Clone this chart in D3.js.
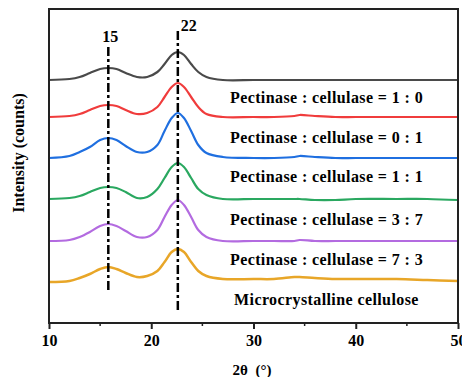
<!DOCTYPE html>
<html>
<head>
<meta charset="utf-8">
<script src="https://cdn.jsdelivr.net/npm/d3@7"></script>
<style>
  body { margin: 0; background: #fff; }
  text { font-family: "Liberation Serif", "Times New Roman", serif; font-weight: bold; }
</style>
</head>
<body>
<svg id="chart"></svg>
<script>
// 2theta sample positions shared by all curves
const twoTheta = [10, 12, 13, 14, 15, 15.8, 16.6, 17.5, 18.6, 19.6, 20.6, 21.3, 22, 22.6, 23.2, 23.9, 24.6, 25.4, 27, 30, 32, 34, 34.5, 36, 38, 40, 44, 47, 50];

// intensity (arbitrary counts, offset stacked)
const gray   = [243, 244, 246, 250, 254, 255, 254, 250, 246, 246, 251, 259, 268, 271, 268, 259, 251, 246, 243, 243, 243, 243, 243, 243, 243, 243, 243, 243, 243];
const red    = [206, 207, 209, 213, 217, 218, 217, 213, 209, 210, 216, 226, 236, 240, 236, 226, 216, 209, 206, 206, 206, 207, 208, 207, 206, 206, 206, 206, 206];
const blue   = [165, 167, 171, 176, 183, 185, 183, 177, 171, 171, 178, 192, 205, 210, 205, 192, 178, 170, 166, 165, 165, 166, 167, 166, 165, 165, 165, 165, 165];
const green  = [124, 125, 127, 131, 135, 136, 135, 131, 125, 126, 134, 145, 156, 160, 156, 145, 134, 128, 124, 124, 124, 124, 124, 123, 123, 124, 124, 124, 123];
const purple = [82, 83, 86, 91, 97, 99, 97, 92, 86, 86, 93, 106, 118, 123, 118, 106, 93, 86, 82, 82, 82, 82, 83, 82, 82, 82, 82, 82, 82];
const orange = [41, 42, 45, 49, 54, 56, 54, 50, 46, 47, 52, 61, 71, 74, 71, 61, 52, 47, 44, 44, 44, 46, 46, 45, 44, 44, 44, 43, 42];

const seriesColors = ["#4a4a4a", "#f03c3c", "#1f6fe0", "#2aa860", "#b36be0", "#e8a628"];
const seriesValues = [gray, red, blue, green, purple, orange];

const labels = ["Pectinase : cellulase = 1 : 0", "Pectinase : cellulase = 0 : 1", "Pectinase : cellulase = 1 : 1",
                "Pectinase : cellulase = 3 : 7", "Pectinase : cellulase = 7 : 3", "Microcrystalline cellulose"];
const labelX = [27.7, 27.7, 27.7, 27.7, 27.7, 28.1];
const labelY = [226, 186, 147, 104, 64, 24];

// reference peaks (dash-dot markers)
const peakPos = [15.8, 22.6];
const peakText = ["15", "22"];
const peakSpan = [[33, 278], [13, 294]];

const xTicks = [10, 20, 30, 40, 50];
const xMinor = [15, 25, 35, 45];

const svgWidth = 462, svgHeight = 377;
const margin = { top: 9, right: 4, bottom: 54, left: 49 };
const width = svgWidth - margin.left - margin.right;
const height = svgHeight - margin.top - margin.bottom;

const svg = d3.select("#chart").attr("width", svgWidth).attr("height", svgHeight);
const chart = svg.append("g").attr("transform", `translate(${margin.left},${margin.top})`);

const x = d3.scaleLinear().domain([10, 50]).range([0, width]);
const y = d3.scaleLinear().domain([0, 314]).range([height, 0]);

const line = d3.line()
    .x(d => x(d[0]))
    .y(d => y(d[1]))
    .curve(d3.curveCatmullRom.alpha(0.5));

// curves
seriesValues.forEach((vals, i) => {
    chart.append("path")
        .datum(twoTheta.map((t, j) => [t, vals[j]]))
        .attr("fill", "none")
        .attr("stroke", seriesColors[i])
        .attr("stroke-width", i === 5 ? 2.5 : 2.2)
        .attr("stroke-linejoin", "round")
        .attr("d", line);
});

// dash-dot peak markers
peakPos.forEach((p, i) => {
    chart.append("line")
        .attr("x1", x(p)).attr("x2", x(p))
        .attr("y1", y(peakSpan[i][0])).attr("y2", y(peakSpan[i][1]))
        .attr("stroke", "#000")
        .attr("stroke-width", 2.5)
        .attr("stroke-dasharray", "9,3,3,3");
});
chart.append("text").attr("x", x(15.8) + 2).attr("y", y(peakSpan[0][1]) - 3)
    .attr("text-anchor", "middle").attr("font-size", 16).text(peakText[0]);
chart.append("text").attr("x", x(22.6) + 3).attr("y", y(peakSpan[1][1]) + 2)
    .attr("text-anchor", "start").attr("font-size", 16).text(peakText[1]);

// curve labels
labels.forEach((t, i) => {
    chart.append("text")
        .attr("x", x(labelX[i]))
        .attr("y", y(labelY[i]))
        .attr("dy", "0.35em")
        .attr("font-size", 16)
        .attr("letter-spacing", 0.4)
        .text(t);
});

// frame
chart.append("rect")
    .attr("width", width).attr("height", height)
    .attr("fill", "none").attr("stroke", "#222").attr("stroke-width", 2);

// x axis
const xAxis = chart.append("g")
    .attr("transform", `translate(0,${height})`)
    .call(d3.axisBottom(x).tickValues(xTicks).tickSize(6).tickPadding(6).tickFormat(d3.format("d")));
xAxis.select(".domain").remove();
xAxis.selectAll("line").attr("stroke", "#222").attr("stroke-width", 2);
xAxis.selectAll("text").attr("font-size", 16).attr("font-family", "Liberation Serif").attr("font-weight", "bold");

chart.append("g")
    .attr("transform", `translate(0,${height})`)
    .selectAll("line")
    .data(xMinor)
    .enter().append("line")
    .attr("x1", d => x(d)).attr("x2", d => x(d))
    .attr("y1", 0).attr("y2", 3)
    .attr("stroke", "#222").attr("stroke-width", 1.5);

// axis titles
svg.append("text")
    .attr("x", 252).attr("y", 370)
    .attr("dy", "0.35em")
    .attr("text-anchor", "middle")
    .attr("font-size", 15)
    .style("white-space", "pre")
    .text("2θ  (°)");

svg.append("text")
    .attr("transform", "translate(18,153) rotate(-90)")
    .attr("dy", "0.35em")
    .attr("text-anchor", "middle")
    .attr("font-size", 16)
    .text("Intensity (counts)");
</script>
</body>
</html>
